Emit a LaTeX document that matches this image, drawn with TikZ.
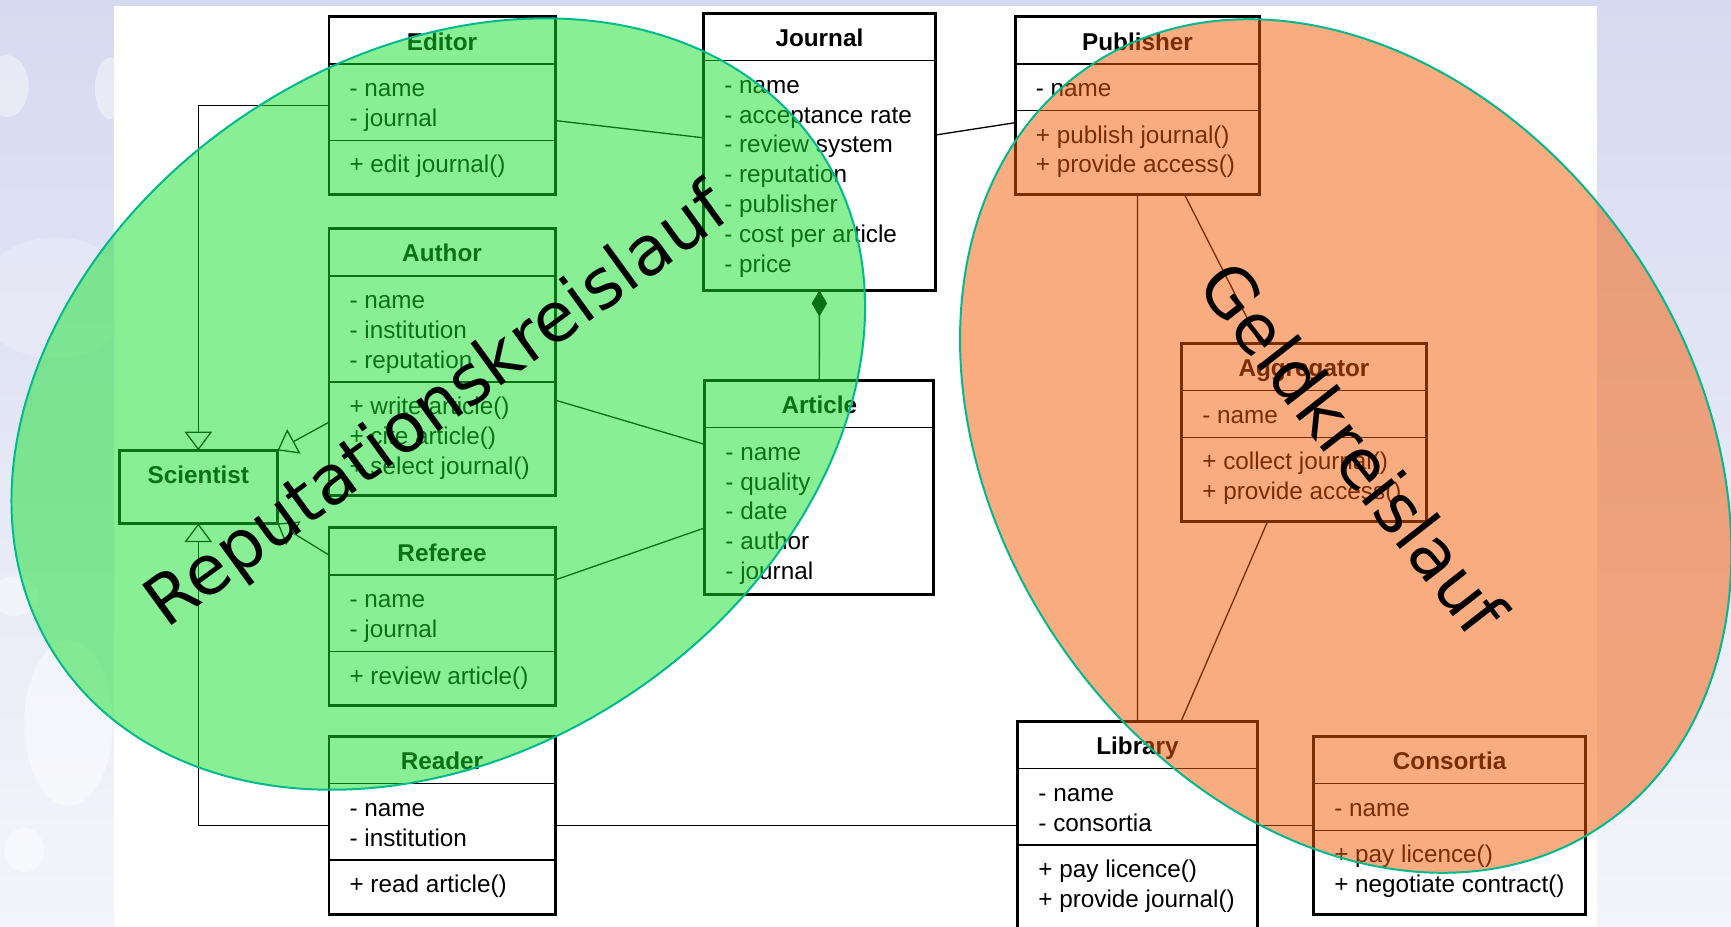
\documentclass[tikz,border=0pt]{standalone}
\usepackage{fontspec}
\setmainfont{Liberation Sans}
\newfontfamily\loopfont{DejaVu Sans}
\usetikzlibrary{shapes.multipart, arrows.meta, calc}

\definecolor{backlav}{RGB}{214,218,240}
\definecolor{backlight}{RGB}{244,245,251}
\definecolor{repgreen}{RGB}{20,225,45}
\definecolor{moneyorange}{RGB}{245,90,0}
\definecolor{loopedge}{RGB}{0,185,140}

\newcommand{\ustrut}{\rule[-4.9pt]{0pt}{26.9pt}}
\newcommand{\uend}{\rule[-11pt]{0pt}{1pt}}

\tikzset{
  umlclass/.style={rectangle split, rectangle split parts=3, draw, line width=1.3pt,
    inner xsep=18pt, inner ysep=7pt, anchor=north west, align=left,
    rectangle split part align={center,left,left},
    font=\fontsize{22}{27}\selectfont,
    append after command={\pgfextra{\draw[line width=2.6pt]
      (\tikzlastnode.north west) rectangle (\tikzlastnode.south east);}}},
  assoc/.style={line width=1.2pt},
  gen/.style={line width=1.2pt, -{Triangle[open,length=17pt,width=25pt]}},
  comp/.style={line width=1.2pt, {Diamond[length=24pt,width=14pt]}-},
  cyclearea/.style={draw=loopedge, line width=1.8pt, fill opacity=0.5},
  cyclelabel/.style={font=\loopfont\fontsize{62}{70}\selectfont, text=black}
}

\begin{document}
\begin{tikzpicture}[x=1pt,y=-1pt]
  \useasboundingbox (0,0) rectangle (1568,839.7);

  % background
  \fill[top color=backlav, bottom color=backlight] (0,0) rectangle (1568,839.7);
  \fill[white, opacity=0.4] (6,78) ellipse [x radius=20, y radius=28];
  \fill[white, opacity=0.4] (100,80) ellipse [x radius=14, y radius=28];
  \fill[white, opacity=0.2] (50,270) ellipse [x radius=70, y radius=55];
  \fill[white, opacity=0.45] (14,540) ellipse [x radius=22, y radius=18];
  \fill[white, opacity=0.45] (62,655) ellipse [x radius=40, y radius=75];
  \fill[white, opacity=0.45] (22,770) ellipse [x radius=18, y radius=20];
  \fill[white] (103,5.5) rectangle (1447,840);

  % classes
  \node[umlclass, minimum width=203.5pt] (editor) at (298,15)
    {\ustrut\textbf{Editor}
     \nodepart{second}\ustrut- name\\\ustrut- journal
     \nodepart{third}\ustrut+ edit journal()\uend};
  \node[umlclass, rectangle split parts=2, minimum width=208.4pt] (journal) at (637.4,12)
    {\ustrut\textbf{Journal}
     \nodepart{second}\ustrut- name\\\ustrut- acceptance rate\\\ustrut- review system\\
     \ustrut- reputation\\\ustrut- publisher\\\ustrut- cost per article\\\ustrut- price\rule[-8pt]{0pt}{1pt}};
  \node[umlclass, minimum width=220pt] (publisher) at (919.7,15)
    {\ustrut\textbf{Publisher}
     \nodepart{second}\ustrut- name
     \nodepart{third}\ustrut+ publish journal()\\\ustrut+ provide access()\uend};
  \node[umlclass, minimum width=203.5pt] (author) at (298,207)
    {\ustrut\textbf{Author}
     \nodepart{second}\ustrut- name\\\ustrut- institution\\\ustrut- reputation
     \nodepart{third}\ustrut+ write article()\\\ustrut+ cite article()\\\ustrut+ select journal()\uend};
  \node[umlclass, rectangle split parts=1, minimum width=142pt] (scientist) at (108,408)
    {\ustrut\textbf{Scientist}\rule[-27.5pt]{0pt}{1pt}};
  \node[umlclass, rectangle split parts=2, minimum width=206pt] (article) at (638.5,344.5)
    {\ustrut\textbf{Article}
     \nodepart{second}\ustrut- name\\\ustrut- quality\\\ustrut- date\\\ustrut- author\\\ustrut- journal};
  \node[umlclass, minimum width=203.5pt] (referee) at (298,478)
    {\ustrut\textbf{Referee}
     \nodepart{second}\ustrut- name\\\ustrut- journal
     \nodepart{third}\ustrut+ review article()\uend};
  \node[umlclass, minimum width=203.5pt] (reader) at (298,667)
    {\ustrut\textbf{Reader}
     \nodepart{second}\ustrut- name\\\ustrut- institution
     \nodepart{third}\ustrut+ read article()\uend};
  \node[umlclass, minimum width=220pt] (aggregator) at (1070.5,311)
    {\ustrut\textbf{Aggregator}
     \nodepart{second}\ustrut- name
     \nodepart{third}\ustrut+ collect journal()\\\ustrut+ provide access()\uend};
  \node[umlclass, minimum width=215.5pt] (library) at (922,653.4)
    {\ustrut\textbf{Library}
     \nodepart{second}\ustrut- name\\\ustrut- consortia
     \nodepart{third}\ustrut+ pay licence()\\\ustrut+ provide journal()\uend};
  \node[umlclass, minimum width=245pt] (consortia) at (1190,667)
    {\ustrut\textbf{Consortia}
     \nodepart{second}\ustrut- name
     \nodepart{third}\ustrut+ pay licence()\\\ustrut+ negotiate contract()\uend};

  % connectors
  \draw[gen] (editor.west) -| (scientist.north);
  \draw[gen] ($(author.north west)!0.725!(author.south west)$) -- (scientist.north east);
  \draw[gen] ($(referee.north west)!0.154!(referee.south west)$) -- (scientist.south east);
  \draw[gen] (reader.west) -| (scientist.south);
  \draw[assoc] ($(editor.north east)!0.585!(editor.south east)$) -- ($(journal.north west)!0.45!(journal.south west)$);
  \draw[assoc] ($(journal.north east)!0.44!(journal.south east)$) -- ($(publisher.north west)!0.597!(publisher.south west)$);
  \draw[assoc] ($(author.north east)!0.642!(author.south east)$) -- ($(article.north west)!0.30!(article.south west)$);
  \draw[assoc] ($(referee.north east)!0.294!(referee.south east)$) -- ($(article.north west)!0.69!(article.south west)$);
  \draw[comp] (journal.south) -- (article.north);
  \draw[assoc] (publisher.south) -- (library.north);
  \draw[assoc] ($(publisher.south west)!0.692!(publisher.south east)$) -- ($(aggregator.north west)!0.32!(aggregator.north east)$);
  \draw[assoc] ($(aggregator.south west)!0.352!(aggregator.south east)$) -- ($(library.north west)!0.682!(library.north east)$);
  \draw[assoc] (reader.east) -- (reader.east -| library.west);
  \draw[assoc] (consortia.west -| library.east) -- (consortia.west);

  % cycles
  \draw[cyclearea, fill=repgreen, rotate around={34:(397,366)}] (397,366) ellipse [x radius=415, y radius=315];
  \draw[cyclearea, fill=moneyorange, rotate around={34:(1219,404)}] (1219,404) ellipse [x radius=315, y radius=415];
  \node[cyclelabel, rotate=36] (replabel) at (397,370) {Reputationskreislauf};
  \node[cyclelabel, rotate=-52] (moneylabel) at (1226,406) {Geldkreislauf};
\end{tikzpicture}
\end{document}
